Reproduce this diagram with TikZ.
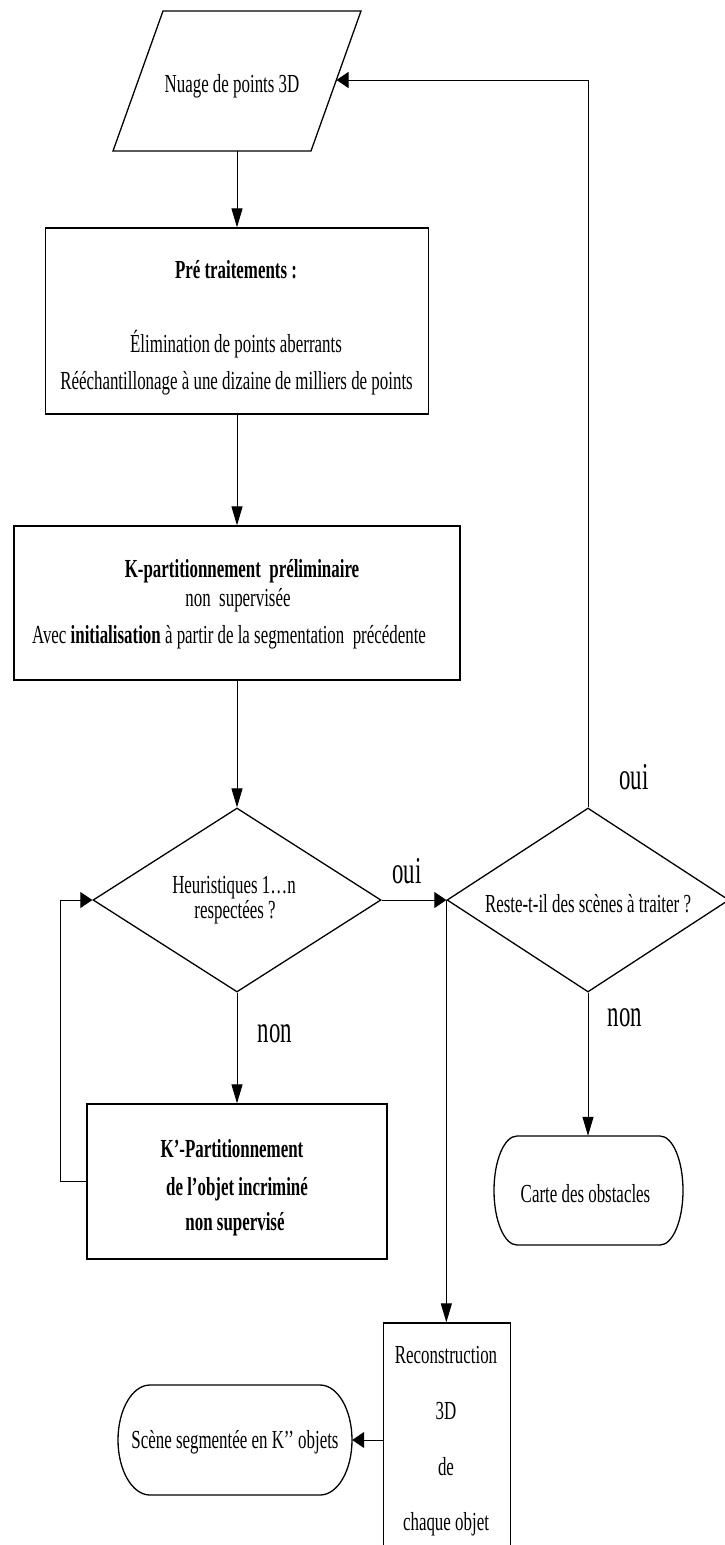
\documentclass[tikz,border=0pt]{standalone}
\usepackage{fontspec}
\setmainfont{Liberation Serif}
\newfontfamily\bodyf[FakeStretch=0.65]{Liberation Serif}
\newfontfamily\labf[FakeStretch=0.6]{Liberation Serif}
\usetikzlibrary{arrows.meta,shapes.geometric}
\newcommand\termpath[5]{%
  \draw[shapeline] ({#1-#3+#5},{#2-#4}) -- ({#1+#3-#5},{#2-#4})
    arc[start angle=-90,end angle=90,x radius=#5,y radius=#4]
    -- ({#1-#3+#5},{#2+#4})
    arc[start angle=90,end angle=270,x radius=#5,y radius=#4] -- cycle;}
\tikzset{
  shapeline/.style={draw=black,line width=1.3pt},
  boxnode/.style={rectangle,shapeline,inner sep=0pt},
  decnode/.style={diamond,shapeline,inner sep=0pt},
  ghost/.style={rectangle,draw=none,inner sep=0pt},
  bodytext/.style={font=\bodyf\fontsize{26}{28}\selectfont,inner sep=0pt,anchor=base},
  lab/.style={font=\labf\fontsize{38}{40}\selectfont,inner sep=0pt,anchor=base},
  conn/.style={draw=black,line width=1pt},
  varrow/.style={conn,-{Triangle[length=19pt,width=11pt]}},
  harrow/.style={conn,-{Triangle[length=12pt,width=16pt]}}
}
\begin{document}
\begin{tikzpicture}[x=1pt,y=-1pt]
\useasboundingbox (0,0) rectangle (725,1545);
\clip (0,0) rectangle (725,1545);
\fill[white] (0,0) rectangle (725,1545);

% input parallelogram
\draw[shapeline] (163,11) -- (361,11) -- (311,151) -- (113,151) -- cycle;
\node[bodytext] (par) at (232,92) {Nuage de points 3D};
\coordinate (parB) at (237,151);
\coordinate (parR) at (336.5,80);

% box 1
\node[boxnode,minimum width=383pt,minimum height=186pt] (b1) at (237,321) {};
\node[bodytext] (b1a) at (236,278) {\bfseries Pré traitements :};
\node[bodytext] (b1b) at (236,352) {Élimination de points aberrants};
\node[bodytext] (b1c) at (236.5,389) {Rééchantillonage à une dizaine de milliers de points};

% box 2
\node[boxnode,minimum width=446pt,minimum height=154pt] (b2) at (237,603) {};
\node[bodytext] (b2a) at (242,577) {\bfseries K-partitionnement\ \ préliminaire};
\node[bodytext] (b2b) at (238,606) {non\ \ supervisée};
\node[bodytext] (b2c) at (229,643) {Avec \textbf{initialisation} à partir de la segmentation\ \ précédente};

% decision 1
\node[decnode,minimum width=288pt,minimum height=184pt] (d1) at (237,900) {};
\node[bodytext] (d1a) at (234,893) {Heuristiques 1…n};
\node[bodytext] (d1b) at (235,918) {respectées ?};

% decision 2
\node[decnode,minimum width=282pt,minimum height=184pt] (d2) at (588,900) {};
\node[bodytext] (d2a) at (588,912) {Reste-t-il des scènes à traiter ?};

% box 3
\node[boxnode,minimum width=300pt,minimum height=155pt] (b3) at (237,1181.5) {};
\node[bodytext] (b3a) at (232,1157) {\bfseries K’-Partitionnement};
\node[bodytext] (b3b) at (237,1195) {\bfseries de l’objet incriminé};
\node[bodytext] (b3c) at (235,1230) {\bfseries non supervisé};

% terminator: carte des obstacles
\termpath{588.5}{1190.5}{94.5}{54.5}{23}
\node[ghost,minimum width=189pt,minimum height=109pt] (carte) at (588,1190.5) {};
\node[bodytext] (cartet) at (585.5,1202) {Carte des obstacles};

% reconstruction box
\node[boxnode,minimum width=127pt,minimum height=234pt] (recon) at (447,1440) {};
\node[bodytext] (r1) at (446,1363) {Reconstruction};
\node[bodytext] (r2) at (446,1419) {3D};
\node[bodytext] (r3) at (446,1475) {de};
\node[bodytext] (r4) at (446,1530) {chaque objet};

% terminator: scene
\termpath{235}{1440}{117}{55}{32}
\node[ghost,minimum width=234pt,minimum height=110pt] (scene) at (235,1440) {};
\node[bodytext] (scenet) at (235,1448) {Scène segmentée en K’’ objets};

% labels
\node[lab] (oui1) at (407,883) {oui};
\node[lab] (oui2) at (634,789) {oui};
\node[lab] (non1) at (275,1042) {non};
\node[lab] (non2) at (625,1026) {non};

% connectors
\draw[varrow] (parB) -- (b1.north);
\draw[varrow] (b1.south) -- (b2.north);
\draw[varrow] (b2.south) -- (d1.north);
\draw[harrow] (d1.east) -- (d2.west);
\draw[varrow] (d1.south) -- (b3.north);
\draw[harrow] (b3.west) -- ++(-26,0) |- (d1.west);
\draw[harrow] (d2.north) |- (parR);
\draw[varrow] (d2.south) -- (carte.north);
\draw[varrow] (d2.west) -- (d2.west |- recon.north);
\draw[harrow] (recon.west) -- (scene.east);
\end{tikzpicture}
\end{document}
